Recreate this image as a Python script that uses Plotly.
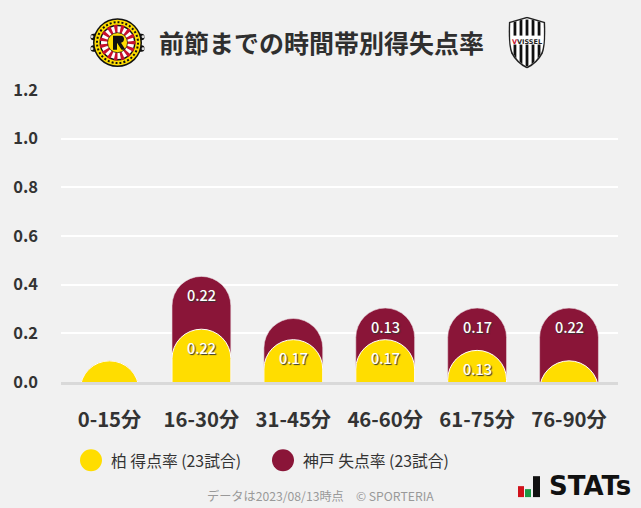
import math, base64
import plotly.graph_objects as go

categories = ["0-15分", "16-30分", "31-45分", "46-60分", "61-75分", "76-90分"]
kashiwa_scored = [0.087, 0.217, 0.174, 0.174, 0.130, 0.087]
kobe_conceded = [0.000, 0.217, 0.087, 0.130, 0.174, 0.217]
kashiwa_labels = ["", "0.22", "0.17", "0.17", "0.13", ""]
kobe_labels = ["", "0.22", "", "0.13", "0.17", "0.22"]
y_ticks = [0, 0.2, 0.4, 0.6, 0.8, 1.0, 1.2]
title_text = "前節までの時間帯別得失点率"
legend_kashiwa = "柏 得点率 (23試合)"
legend_kobe = "神戸 失点率 (23試合)"
footer_text = "データは2023/08/13時点　© SPORTERIA"

W, H = 641, 508
L, R, T, B = 61, 618, 89.5, 382.5
YELLOW, RED, BG = "#FFDD00", "#8A1538", "#F1F1F1"
FONT = "Noto Sans CJK JP"
BELOW = 0.3  # bars start below the baseline and are clipped, so short bars show a round cap
stack_top = [a + b for a, b in zip(kashiwa_scored, kobe_conceded)]

def px(x): return (x - L) / (R - L)
def py(y): return (B - y) / (B - T)

def uri(svg):
    return "data:image/svg+xml;base64," + base64.b64encode(svg.encode()).decode()

rays = "".join(
    f'<polygon points="50,50 {50+36*math.cos(math.radians(a-6)):.1f},{50+36*math.sin(math.radians(a-6)):.1f} {50+36*math.cos(math.radians(a+6)):.1f},{50+36*math.sin(math.radians(a+6)):.1f}" fill="#c8102e"/>'
    for a in range(0, 360, 24))
kashiwa_svg = f'''<svg xmlns="http://www.w3.org/2000/svg" width="110" height="100" viewBox="-5 0 110 100">
<rect x="-4" y="32" width="108" height="13" rx="6" fill="#111"/><rect x="-4" y="55" width="108" height="13" rx="6" fill="#111"/>
<circle cx="-1" cy="38" r="3" fill="#ddd"/><circle cx="101" cy="38" r="3" fill="#ddd"/><circle cx="-1" cy="62" r="3" fill="#ddd"/><circle cx="101" cy="62" r="3" fill="#ddd"/>
<circle cx="50" cy="50" r="49" fill="#111"/><circle cx="50" cy="50" r="46" fill="#FFDD00"/><circle cx="50" cy="50" r="36" fill="#111"/>
<circle cx="50" cy="50" r="33" fill="#fff"/>{rays}<circle cx="50" cy="50" r="20" fill="#FFDD00"/><circle cx="50" cy="50" r="20" fill="none" stroke="#111" stroke-width="1.5"/>
<path d="M41 36h16c8 0 8 13 0 14l9 14h-8l-9-14v14h-8z" fill="#111"/>
<g stroke="#111" stroke-width="4" stroke-dasharray="4 4" fill="none"><circle cx="50" cy="50" r="41"/></g></svg>'''
stripes = "".join(f'<rect x="{x}" y="6" width="6" height="106" fill="#111"/>' for x in (14, 27, 40, 53, 66))
vissel_svg = f'''<svg xmlns="http://www.w3.org/2000/svg" width="80" height="102" viewBox="0 0 86 110">
<defs><clipPath id="s"><path d="M8 13 L43 3 L78 13 Q80 60 74 76 Q64 96 43 106 Q22 96 12 76 Q6 60 8 13Z"/></clipPath></defs>
<path d="M4 11 L43 0 L82 11 Q84 60 77 78 Q66 99 43 110 Q20 99 9 78 Q2 60 4 11Z" fill="#222"/>
<path d="M7 13 L43 3 L79 13 Q81 60 74 76 Q64 96 43 106 Q22 96 12 76 Q5 60 7 13Z" fill="#fff"/>
<g clip-path="url(#s)">{stripes}</g><rect x="8" y="40" width="70" height="19" fill="#fff"/></svg>'''

fig = go.Figure()
fig.add_bar(x=categories, y=[v + BELOW for v in stack_top], base=-BELOW, name=legend_kobe, width=0.64,
            yaxis="y", marker=dict(color=RED, line=dict(color="#E9DCE0", width=0.6)), showlegend=False)
fig.add_bar(x=categories, y=[v + BELOW for v in kashiwa_scored], base=-BELOW, name=legend_kashiwa, width=0.64,
            yaxis="y2", marker=dict(color=YELLOW, line=dict(color="#FFFFFF", width=1)), showlegend=False)

annotations = []
label_font = dict(family=FONT, size=14.5, color="#FFFFFF", weight=500, shadow="1px 1px 1px #333333")
for cat, top, low, t_top, t_low in zip(categories, stack_top, kashiwa_scored, kobe_labels, kashiwa_labels):
    if t_top:
        annotations.append(dict(x=cat, y=top, xref="x", yref="y", text=t_top, showarrow=False,
                                yshift=-18, yanchor="middle", font=label_font))
    if t_low:
        annotations.append(dict(x=cat, y=low, xref="x", yref="y", text=t_low, showarrow=False,
                                yshift=-18, yanchor="middle", font=label_font))

def text(x, y, s, size, color, weight=400, family=FONT, anchor="center"):
    annotations.append(dict(x=px(x), y=py(y), xref="paper", yref="paper", text=s, showarrow=False,
                            xanchor=anchor, yanchor="middle",
                            font=dict(family=family, size=size, color=color, weight=weight)))

text(321, 41, title_text, 25, "#2F2F2F", 700)
text(109, 461, legend_kashiwa, 15.8, "#333333", 400, anchor="left")
text(301, 461, legend_kobe, 15.8, "#333333", 400, anchor="left")
text(320.5, 497, footer_text, 12.2, "#999999", 400)
text(547, 487, "STATs", 26, "#111111", 700, family="DejaVu Sans", anchor="left")
text(527, 41.5, '<span style="color:#C8102E">V</span>VISSEL', 6.5, "#222222", 700, family="DejaVu Sans")

def circle(cx, cy, r, col):
    return dict(type="circle", xref="paper", yref="paper", x0=px(cx-r), x1=px(cx+r), y0=py(cy+r), y1=py(cy-r),
                fillcolor=col, line=dict(width=0))
def rect(x0, y0, x1, y1, col):
    return dict(type="rect", xref="paper", yref="paper", x0=px(x0), x1=px(x1), y0=py(y1), y1=py(y0),
                fillcolor=col, line=dict(width=0))

shapes = [circle(91, 461, 11, YELLOW), circle(283, 461, 11, RED),
          rect(518, 487, 524, 498, "#D0121B"), rect(525, 490, 531, 498, "#1B9A46"), rect(533, 477, 540, 498, "#111111")]

images = [
    dict(source=uri(kashiwa_svg), xref="paper", yref="paper", x=px(90), y=py(17), sizex=55/(R-L), sizey=50/(B-T),
         xanchor="left", yanchor="top", sizing="stretch", layer="above"),
    dict(source=uri(vissel_svg), xref="paper", yref="paper", x=px(507), y=py(16), sizex=40/(R-L), sizey=52/(B-T),
         xanchor="left", yanchor="top", sizing="stretch", layer="above"),
]

fig.update_layout(
    width=W, height=H, barmode="overlay", barcornerradius=30, showlegend=False,
    paper_bgcolor=BG, plot_bgcolor=BG, font=dict(family=FONT),
    margin=dict(l=L, r=W-R, t=T, b=H-B, pad=0),
    annotations=annotations, shapes=shapes, images=images,
    xaxis=dict(type="category", categoryorder="array", categoryarray=categories, showgrid=False,
               range=[-0.528, 5.533],
               showline=True, linecolor="#D9D9D9", linewidth=3, ticks="",
               tickfont=dict(family=FONT, size=20.3, color="#333333", weight=700), ticklabelstandoff=18),
    yaxis=dict(range=[0, 1.2], tickvals=y_ticks, tickformat=".1f", gridcolor="#FFFFFF", gridwidth=2,
               zeroline=False, showline=False, ticks="",
               tickfont=dict(family=FONT, size=16.5, color="#333333", weight=700), ticklabelstandoff=22),
    yaxis2=dict(range=[0, 1.2], overlaying="y", visible=False),
)
fig.write_html("out.html", config=dict(displayModeBar=False),
               post_script="document.body.style.margin='0';document.body.style.background='%s';" % BG)
